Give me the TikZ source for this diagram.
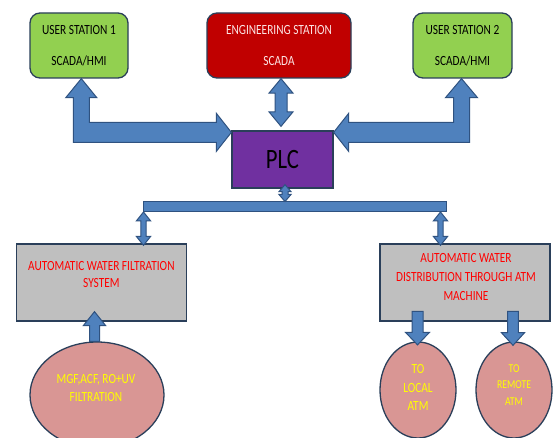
\documentclass[tikz,border=0pt]{standalone}
\usepackage{fontspec}
\setmainfont{Carlito}[FakeStretch=0.81]
\usetikzlibrary{calc,shapes.geometric}
\definecolor{arrowblue}{HTML}{4F81BD}
\definecolor{arrowline}{HTML}{2F5280}
\definecolor{boxline}{HTML}{2A3F5A}
\definecolor{usgreen}{HTML}{92D050}
\definecolor{engred}{HTML}{C00000}
\definecolor{plcpurple}{HTML}{7030A0}
\definecolor{boxgray}{HTML}{BFBFBF}
\definecolor{ellpink}{HTML}{D99694}
\definecolor{txtyellow}{HTML}{FFFF00}
\definecolor{txtred}{HTML}{FF0000}
\definecolor{txtpink}{HTML}{FCE4E4}
\tikzset{
  station/.style={draw=boxline, line width=1.3pt, rounded corners=10pt,
    minimum width=#1, minimum height=65pt, inner sep=0pt, align=center,
    font=\fontsize{14}{31}\selectfont},
  graybox/.style={draw=boxline, line width=1.3pt, fill=boxgray,
    minimum width=170pt, minimum height=77pt, inner sep=0pt},
  ellbox/.style={ellipse, draw=boxline, line width=1.3pt, fill=ellpink, inner sep=0pt},
  redtext/.style={text=txtred, align=center, inner sep=0pt},
  yeltext/.style={text=txtyellow, align=center, inner sep=0pt},
  blockarrow/.style={fill=arrowblue, draw=arrowline, line width=1pt, line join=miter}
}
% vertical double block arrow: x from #1, tips at y of #1 (top) and #2 (bottom)
\newcommand{\blkvd}[5]{\filldraw[blockarrow] let \p1=(#1), \p2=(#2) in
  (\x1,\y1) -- (\x1+#4,\y1-#5) -- (\x1+#3,\y1-#5) -- (\x1+#3,\y2+#5) --
  (\x1+#4,\y2+#5) -- (\x1,\y2) -- (\x1-#4,\y2+#5) -- (\x1-#3,\y2+#5) --
  (\x1-#3,\y1-#5) -- (\x1-#4,\y1-#5) -- cycle;}
% downward block arrow: tail at #1, tip at y of #2
\newcommand{\blkdown}[5]{\filldraw[blockarrow] let \p1=(#1), \p2=(#2) in
  (\x1-#3,\y1) -- (\x1+#3,\y1) -- (\x1+#3,\y2+#5) -- (\x1+#4,\y2+#5) --
  (\x1,\y2) -- (\x1-#4,\y2+#5) -- (\x1-#3,\y2+#5) -- cycle;}
% upward block arrow: tail at #1, tip at y of #2
\newcommand{\blkup}[5]{\filldraw[blockarrow] let \p1=(#1), \p2=(#2) in
  (\x1-#3,\y1) -- (\x1+#3,\y1) -- (\x1+#3,\y2-#5) -- (\x1+#4,\y2-#5) --
  (\x1,\y2) -- (\x1-#4,\y2-#5) -- (\x1-#3,\y2-#5) -- cycle;}
\begin{document}
\begin{tikzpicture}[x=1pt,y=-1pt]
\useasboundingbox (0,0) rectangle (557,438);
\clip (0,0) rectangle (557,438);
\fill[white] (0,0) rectangle (557,438);

% top stations
\node[station=98pt, fill=usgreen] (us1) at (79,45.5) {USER STATION 1\\SCADA/HMI};
\node[station=144pt, fill=engred, text=txtpink] (eng) at (279,45.5) {ENGINEERING STATION\\SCADA};
\node[station=99pt, fill=usgreen] (us2) at (462.5,45.5) {USER STATION 2\\SCADA/HMI};

% PLC
\node[draw=boxline, line width=1.3pt, fill=plcpurple, minimum width=101pt,
      minimum height=57pt, inner sep=0pt, font=\fontsize{28}{30}\selectfont] (plc) at (282.5,159.5) {PLC};

% bus bar
\node[fill=arrowblue, draw=arrowline, line width=1pt, minimum width=303pt,
      minimum height=9.5pt, inner sep=0pt] (bus) at (295,206.75) {};

% lower boxes
\node[graybox] (fil) at (101.4,282.5) {};
\node[redtext, font=\fontsize{14}{17}\selectfont] (filtxt) at (101.4,274.5) {AUTOMATIC WATER FILTRATION\\SYSTEM};
\node[graybox] (dist) at (465,282.5) {};
\node[redtext, font=\fontsize{14}{19}\selectfont] (disttxt) at (466,277) {AUTOMATIC WATER\\DISTRIBUTION THROUGH ATM\\MACHINE};

% ellipses
\node[ellbox, minimum width=134pt, minimum height=106pt] (src) at (97,395) {};
\node[yeltext, font=\fontsize{14}{18}\selectfont] (srctxt) at (96,388.3) {MGF,ACF, RO+UV\\FILTRATION};
\node[ellbox, minimum width=76pt, minimum height=96pt] (loc) at (418,390) {};
\node[yeltext, font=\fontsize{14}{18.5}\selectfont] (loctxt) at (418,387.5) {TO\\LOCAL\\ATM};
\node[ellbox, minimum width=76pt, minimum height=96pt] (rem) at (514,390) {};
\node[yeltext, font=\fontsize{12}{16.7}\selectfont] (remtxt) at (514,385) {TO\\REMOTE\\ATM};

% bent double arrows
\filldraw[blockarrow] let \p1=(us1.south), \p2=(plc.north west) in
  (\x1+2.3pt,\y1) -- (\x1+17.8pt,\y1-19pt) -- (\x1+10.3pt,\y1-19pt) --
  (\x1+10.3pt,\y2+8pt) -- (\x2-15pt,\y2+8pt) -- (\x2-15pt,\y2+17pt) --
  (\x2,\y2-2pt) -- (\x2-15pt,\y2-21pt) -- (\x2-15pt,\y2-12pt) --
  (\x1-5.7pt,\y2-12pt) -- (\x1-5.7pt,\y1-19pt) -- (\x1-13.2pt,\y1-19pt) -- cycle;
\filldraw[blockarrow] let \p1=(us2.south), \p2=(plc.north east) in
  (\x1-1pt,\y1) -- (\x1+15pt,\y1-19pt) -- (\x1+7pt,\y1-19pt) --
  (\x1+7pt,\y2-12pt) -- (\x2+15pt,\y2-12pt) -- (\x2+15pt,\y2-21pt) --
  (\x2,\y2-2pt) -- (\x2+15pt,\y2+17pt) -- (\x2+15pt,\y2+8pt) --
  (\x1-9pt,\y2+8pt) -- (\x1-9pt,\y1-19pt) -- (\x1-17pt,\y1-19pt) -- cycle;

% straight double arrows
\blkvd{$(eng.south)+(2,0)$}{$(plc.north)+(0,-4)$}{6pt}{12pt}{14.5pt}
\blkvd{$(plc.south)+(2.5,-4)$}{bus.north}{3pt}{6pt}{7pt}
\blkvd{$(bus.south west)+(0.5,0)$}{$(fil.north)+(0,2)$}{2.7pt}{7.2pt}{9pt}
\blkvd{$(bus.south east)+(-6.5,0)$}{$(dist.north)+(0,2)$}{2.7pt}{7.2pt}{9pt}

% single arrows
\blkup{$(src.north)+(-2.5,0)$}{$(fil.south)+(0,-10)$}{5pt}{11.2pt}{14pt}
\blkdown{$(loc.north)+(-0.5,-30)$}{$(loc.north)+(0,3.5)$}{5.5pt}{12pt}{12.5pt}
\blkdown{$(rem.north)+(-1,-30)$}{$(rem.north)+(0,4)$}{5.3pt}{11.6pt}{12.7pt}
\end{tikzpicture}
\end{document}
